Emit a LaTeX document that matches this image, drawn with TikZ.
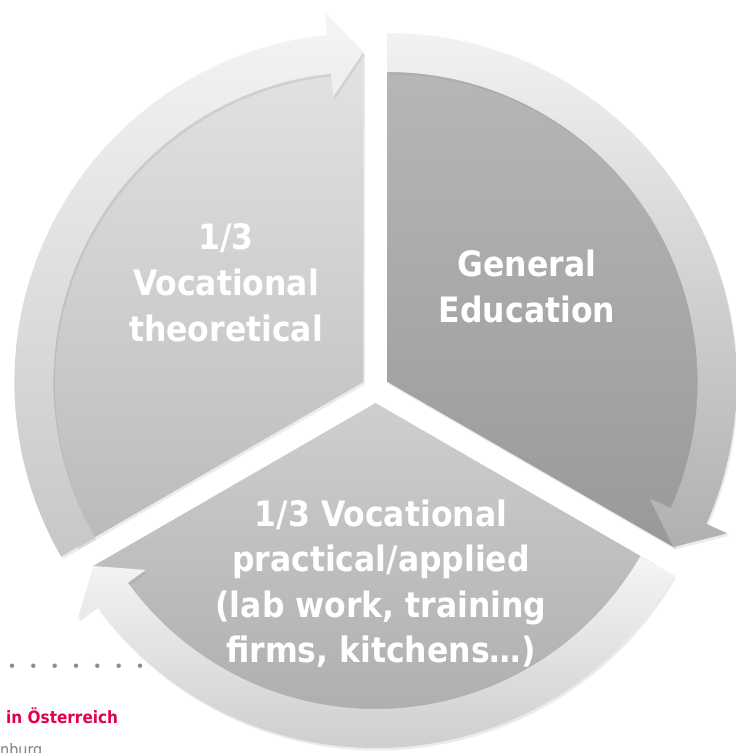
\documentclass[tikz,border=0pt]{standalone}
\usepackage{fontspec}
\usepackage{tikz}
\usetikzlibrary{shadows}
\newfontfamily\segfont{DejaVu Sans Condensed}
\definecolor{segred}{RGB}{226,0,79}
\definecolor{seggray}{RGB}{128,128,128}
\tikzset{segtext/.style={text=white,inner sep=0pt,align=center,font=\segfont\bfseries\fontsize{35}{46}\selectfont},
segshadow/.style={drop shadow={opacity=0.16,shadow xshift=1.5pt,shadow yshift=-2.5pt}}}
\begin{document}
\begin{tikzpicture}[x=1pt,y=1pt]
\useasboundingbox (0,0) rectangle (736,753);
%Левый сегмент и его стрелка
\begin{scope}[shift={(363.4,371)}]
\path[segshadow,top color=black!11,bottom color=black!27] (0,0)--(210:330) arc[start angle=210,end angle=90,radius=330]--cycle;
\path[segshadow,top color=black!4,bottom color=black!22] (210:310) arc[start angle=210,end angle=96,radius=310]--(96:287)--(90:330)--(96:372)--(96:349) arc[start angle=96,end angle=210,radius=349]--cycle;
\end{scope}
%Правый сегмент и его стрелка
\begin{scope}[shift={(387.6,371)}]
\path[segshadow,top color=black!28,bottom color=black!40] (0,0)--(90:330) arc[start angle=90,end angle=-30,radius=330]--cycle;
\path[segshadow,top color=black!5,bottom color=black!31] (90:310) arc[start angle=90,end angle=-24,radius=310]--(-24:287)--(-30:330)--(-24:372)--(-24:349) arc[start angle=-24,end angle=90,radius=349]--cycle;
\end{scope}
%Нижний сегмент и его стрелка
\begin{scope}[shift={(375.5,350)}]
\path[segshadow,top color=black!19,bottom color=black!34] (0,0)--(330:326) arc[start angle=330,end angle=210,radius=326]--cycle;
\path[segshadow,top color=black!4,bottom color=black!20] (-30:306) arc[start angle=-30,end angle=-144,radius=306]--(-144:284)--(-150:326)--(-144:368)--(-144:345) arc[start angle=-144,end angle=-30,radius=345]--cycle;
\end{scope}
%Подписи сегментов
\node[segtext] (theory) at (226,470) {1/3\\Vocational\\theoretical};
\node[segtext] (general) at (527,467) {General\\Education};
\node[segtext,font=\segfont\bfseries\fontsize{35}{45.5}\selectfont] (practice) at (381,169.5) {1/3 Vocational\\practical/applied\\(lab work, training\\firms, kitchens…)};
%Пунктир и текст внизу слева
\draw[seggray!90,line width=4.5,line cap=round,dash pattern=on 0pt off 21.33pt] (12,87.3)--(141,87.3);
\node[anchor=base west,inner sep=0pt,text=segred,font=\segfont\bfseries\fontsize{17}{20}\selectfont] (land) at (6,30) {in Österreich};
\node[anchor=base west,inner sep=0pt,text=seggray,font=\segfont\fontsize{16}{19}\selectfont] (town) at (0,-2) {nburg};
\end{tikzpicture}
\end{document}
